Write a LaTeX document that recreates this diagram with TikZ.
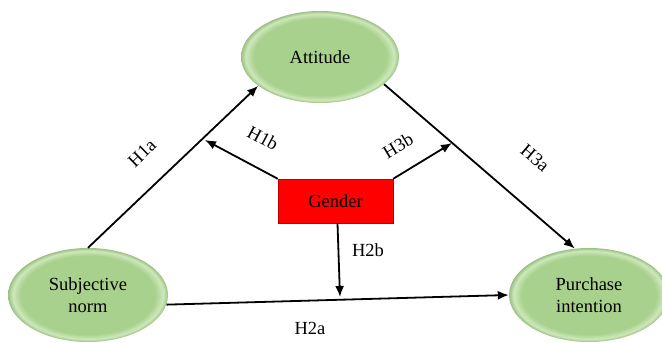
\documentclass[tikz,border=0pt]{standalone}
\usepackage{xcolor}
\usepackage{tikz}
\usetikzlibrary{arrows.meta,shapes.geometric}
\usepackage{fontspec}
\setmainfont{Liberation Serif}
\definecolor{nodegreen}{RGB}{169, 209, 142}
\definecolor{rimgreen}{RGB}{205, 232, 186}
\definecolor{genderred}{RGB}{255, 0, 0}
\pgfdeclareradialshading{bevelgreen}{\pgfpoint{0bp}{0bp}}{%
  color(0bp)=(nodegreen); color(21bp)=(nodegreen); color(23.5bp)=(rimgreen);
  color(25bp)=(nodegreen!92!black); color(50bp)=(nodegreen!92!black)}

\begin{document}
\begin{tikzpicture}[x=1pt, y=1pt,
  construct/.style={ellipse, shading=bevelgreen, align=center,
    font=\fontsize{18.5}{22.5}\selectfont},
  moderator/.style={rectangle, fill=genderred, draw=genderred!75!black,
    line width=0.4pt, minimum width=115pt, minimum height=44pt,
    font=\fontsize{18.5}{22.5}\selectfont},
  path/.style={line width=1.8pt, -{Latex[length=11pt, width=9pt]}},
  hyp/.style={font=\fontsize{18.5}{22.5}\selectfont, inner sep=0pt}
]
\useasboundingbox (0,0) rectangle (662,343);
\clip (0,0) rectangle (662,343);

% constructs
\node[construct, minimum width=158pt, minimum height=92pt] (att) at (320,286) {Attitude};
\node[construct, minimum width=160pt, minimum height=94pt] (subj) at (88,48) {Subjective\\norm};
\node[construct, minimum width=160pt, minimum height=94pt] (pur) at (589,48) {Purchase\\intention};
\node[moderator] (gen) at (335.5,142) {Gender};

% free ends of the moderating arrows
\coordinate (h1bend) at (205,203);
\coordinate (h3bend) at (452,200);
\coordinate (h2bend) at (340,46);

% direct paths
\draw[path] (subj.north) -- (att.205);
\draw[path] (att.337) -- (pur.107);
\draw[path] (subj.-7) -- (pur.west);

% gender paths
\draw[path] (gen.north west) -- (h1bend);
\draw[path] (gen.north east) -- (h3bend);
\draw[path] ([xshift=2pt]gen.south) -- (h2bend);

% labels
\node[hyp, rotate=44] (h1a) at (142,190) {H1a};
\node[hyp, rotate=-28] (h1b) at (263,205) {H1b};
\node[hyp, rotate=31] (h3b) at (398,197) {H3b};
\node[hyp, rotate=-40] (h3a) at (535,185) {H3a};
\node[hyp] (h2b) at (368,93) {H2b};
\node[hyp] (h2a) at (310,15) {H2a};
\end{tikzpicture}
\end{document}
